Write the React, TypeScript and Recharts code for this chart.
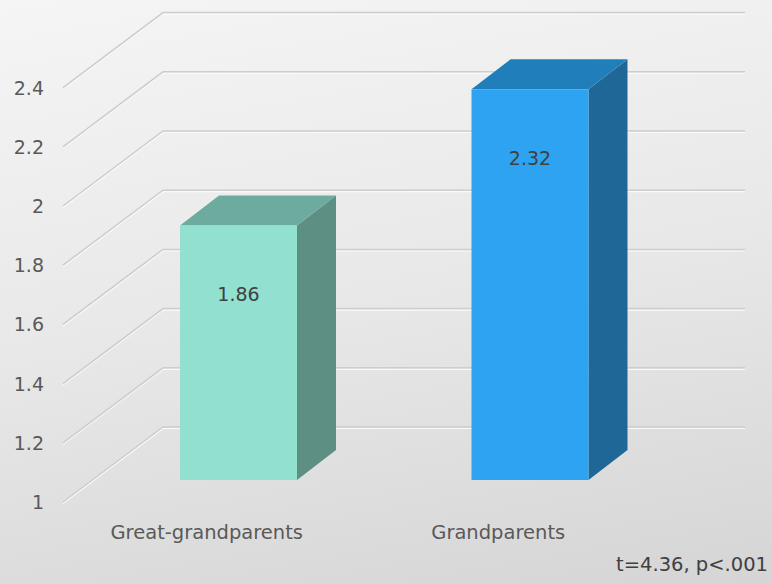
import React from "react";
import { BarChart, Bar, XAxis, YAxis, CartesianGrid, Cell, LabelList } from "recharts";

const categories = ["Great-grandparents", "Grandparents"];
const means = [1.86, 2.32];
const frontColors = ["#92e0d0", "#2ea3f2"];
const topColors = ["#6eab9f", "#207fbb"];
const sideColors = ["#5d8f82", "#1e6797"];
const yTicks = [1, 1.2, 1.4, 1.6, 1.8, 2, 2.2, 2.4];
const testNote = "t=4.36, p<.001";

const FONT = "'DejaVu Sans', sans-serif";

// oblique offsets for the 3D look
const WALL_DX = 100;
const WALL_DY = 75;
const FRONT_DROP = 22;
const BAR_DX = 39;
const BAR_DY = 30;
const PLOT_TOP = 36;

const chartData = categories.map((name, i) => ({ name, mean: means[i], idx: i }));

const GridLine = (props: any) => {
  const { y1 } = props;
  // the plot's top edge carries no tick, so no wall line there
  if (y1 < PLOT_TOP + 5) return <g key={props.key} />;
  const fy = y1 + FRONT_DROP;
  const by = fy - WALL_DY;
  const pts = `63,${fy} ${63 + WALL_DX},${by} 745,${by}`;
  const ptsLow = `63,${fy + 1.5} ${63 + WALL_DX},${by + 1.5} 745,${by + 1.5}`;
  return (
    <g key={props.key}>
      <polyline points={ptsLow} fill="none" stroke="#fafafa" strokeWidth={1.2} />
      <polyline points={pts} fill="none" stroke="#cdcdcd" strokeWidth={1.5} />
    </g>
  );
};

const Box = (props: any) => {
  const { x, y, width, height, payload } = props;
  const i = payload.idx;
  const top = `${x},${y} ${x + width},${y} ${x + width + BAR_DX},${y - BAR_DY} ${x + BAR_DX},${y - BAR_DY}`;
  const side = `${x + width},${y} ${x + width + BAR_DX},${y - BAR_DY} ${x + width + BAR_DX},${y + height - BAR_DY} ${x + width},${y + height}`;
  return (
    <g>
      <polygon points={side} fill={sideColors[i]} />
      <polygon points={top} fill={topColors[i]} />
      <rect x={x} y={y} width={width} height={height} fill={frontColors[i]} />
    </g>
  );
};

const YTick = ({ y, payload }: any) => (
  <text x={44} y={y + FRONT_DROP} textAnchor="end" dominantBaseline="central" fill="#595959" fontSize={19} fontFamily={FONT}>
    {payload.value}
  </text>
);

const XTick = ({ x, payload }: any) => (
  <text x={x - 32} y={532} textAnchor="middle" dominantBaseline="central" fill="#595959" fontSize={19.5} fontFamily={FONT}>
    {payload.value}
  </text>
);

const ValueLabel = ({ x, y, width, value }: any) => (
  <text x={x + width / 2} y={y + 69} textAnchor="middle" dominantBaseline="central" fill="#404040" fontSize={19} fontFamily={FONT}>
    {Number(value).toFixed(2)}
  </text>
);

export default function App() {
  return (
    <div
      style={{
        position: "absolute",
        left: 0,
        top: 0,
        width: 772,
        height: 584,
        background: "linear-gradient(170deg, #f5f5f5 0%, #e8e8e8 50%, #d5d5d5 100%)",
        fontFamily: FONT,
      }}
    >
      <BarChart width={772} height={584} data={chartData} margin={{ top: PLOT_TOP, right: 96, bottom: 74, left: 0 }}>
        <CartesianGrid vertical={false} horizontal={GridLine} />
        <YAxis
          type="number"
          domain={[1, 2.5]}
          ticks={yTicks}
          interval={0}
          width={93}
          axisLine={false}
          tickLine={false}
          tick={YTick}
        />
        <XAxis dataKey="name" height={30} axisLine={false} tickLine={false} tick={XTick} />
        <Bar dataKey="mean" barSize={117} shape={Box} isAnimationActive={false}>
          {chartData.map((d) => (
            <Cell key={d.name} fill={frontColors[d.idx]} />
          ))}
          <LabelList dataKey="mean" content={ValueLabel} />
        </Bar>
      </BarChart>
      <div
        style={{
          position: "absolute",
          right: 4,
          top: 553,
          fontSize: 19.5,
          color: "#404040",
          fontFamily: FONT,
          whiteSpace: "nowrap",
        }}
      >
        {testNote}
      </div>
    </div>
  );
}
